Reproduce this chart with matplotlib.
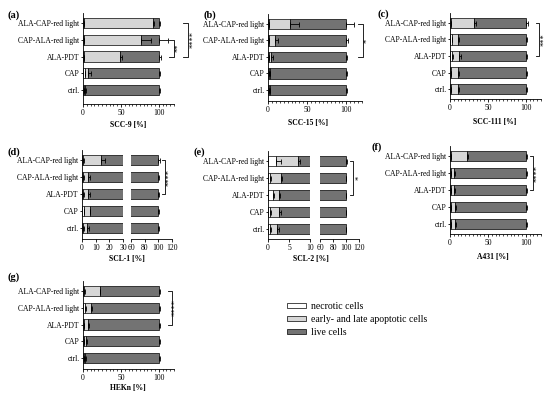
import matplotlib
matplotlib.use('Agg')
import matplotlib.pyplot as plt
from matplotlib.patches import Patch
from matplotlib.ticker import MultipleLocator

plt.rcParams['font.family'] = ['Liberation Serif', 'DejaVu Serif']

# categories, bottom (ctrl.) to top
categories = ["ctrl.", "CAP", "ALA-PDT", "CAP-ALA-red light", "ALA-CAP-red light"]

# SCC-9
a_nec = [1, 2, 1, 1, 1]
a_apo = [2, 5, 48, 76, 91]
a_nec_err = [0.5, 0.5, 0.5, 0.5, 0.5]
a_apo_err = [1, 3, 3, 13, 2]
a_live_err = [1, 2, 3, 12, 2]

# SCC-15
b_nec = [1, 1, 1, 1, 1]
b_apo = [1.5, 1.5, 3, 8, 27]
b_nec_err = [0.5, 0.5, 0.5, 0.5, 0.5]
b_apo_err = [0.5, 0.5, 2, 4, 12]
b_live_err = [1, 1, 1, 2, 10]

# SCC-111
c_nec = [1, 1, 3, 2, 1]
c_apo = [10, 10, 9, 8, 30]
c_nec_err = [0.5, 0.5, 0.5, 0.5, 0.5]
c_apo_err = [1, 1, 2, 2, 3]
c_live_err = [1, 1, 2, 2, 3]

# SCL-1
d_nec = [1, 1.5, 1, 1, 1]
d_apo = [3, 4, 3.5, 3.5, 13]
d_nec_err = [0.3, 0.3, 0.3, 0.3, 0.3]
d_apo_err = [1, 0.5, 1, 1, 3]
d_live_err = [1, 1, 1, 1, 3]

# SCL-2
e_nec = [0.5, 0.4, 1.3, 0.5, 2]
e_apo = [1.7, 2.1, 1.2, 2.5, 5.2]
e_nec_err = [0.3, 0.2, 0.1, 0.3, 1]
e_apo_err = [0.3, 0.5, 0.3, 0.3, 0.4]
e_live_err = [0.5, 0.5, 0.5, 0.5, 1]

# A431
f_nec = [1, 1, 1, 1, 1]
f_apo = [6, 6, 4, 4, 21]
f_nec_err = [0.5, 0.5, 0.5, 0.5, 0.5]
f_apo_err = [1, 1, 2, 2, 2]
f_live_err = [1, 1, 1, 1, 1]

# HEKn
g_nec = [1, 1, 1, 3, 1]
g_apo = [2, 3, 6, 8, 21]
g_nec_err = [0.5, 0.5, 0.5, 1, 1]
g_apo_err = [1, 1, 1, 1, 1]
g_live_err = [1, 1, 1, 1, 1]

legend_labels = ["necrotic cells", "early- and late apoptotic cells", "live cells"]

C_NEC = "white"
C_APO = "#d6d6d6"
C_LIVE = "#737373"
FS = 5.5

W, H = 550, 396
fig = plt.figure(figsize=(5.5, 3.96), dpi=100)


def make_ax(x0, x1, ytop, yctrl, yaxis, xlim):
    sp = (yctrl - ytop) / 4
    y_hi = ytop - 0.6 * sp
    ax = fig.add_axes([x0 / W, 1 - yaxis / H, (x1 - x0) / W, (yaxis - y_hi) / H])
    ax.set_ylim(-(yaxis - yctrl) / sp, 4.6)
    ax.set_xlim(*xlim)
    for s in ['top', 'right']:
        ax.spines[s].set_visible(False)
    for s in ['left', 'bottom']:
        ax.spines[s].set_linewidth(0.6)
    ax.tick_params(labelsize=FS, width=0.6, length=2, pad=1.5)
    ax.tick_params(axis='y', length=1.5, pad=1)
    ax.tick_params(which='minor', width=0.5, length=1.2)
    return ax


def draw_bars(ax, nec, apo, nec_err, apo_err, live_err):
    y = range(len(categories))
    live = [100 - n - a for n, a in zip(nec, apo)]
    left_apo = list(nec)
    left_live = [n + a for n, a in zip(nec, apo)]
    kw = dict(height=0.62, edgecolor='black', linewidth=0.5)
    ax.barh(y, nec, color=C_NEC, **kw)
    ax.barh(y, apo, left=left_apo, color=C_APO, **kw)
    ax.barh(y, live, left=left_live, color=C_LIVE, **kw)
    ekw = dict(fmt='none', ecolor='black', elinewidth=0.6, capsize=1.8, capthick=0.6)
    for ends, err in [(nec, nec_err), (left_live, apo_err), ([100] * 5, live_err)]:
        ax.errorbar(ends, y, xerr=[[0] * 5, err], **ekw)


def bracket(ax, x0, x1, r0, r1, stars, xs):
    ax.plot([x0, x1, x1, x0], [r0, r0, r1, r1], color='black', lw=0.6, clip_on=False)
    ax.text(xs, (r0 + r1) / 2, stars, rotation=90, ha='center', va='center',
            fontsize=6, clip_on=False)


def panel_label(x, y, s):
    fig.text(x / W, 1 - y / H, s, fontsize=7.5, fontweight='bold', ha='left', va='center')


def xlabel(x, y, s):
    fig.text(x / W, 1 - y / H, s, fontsize=FS, fontweight='bold', ha='center', va='center')


def full_panel(geom, data, name, lab, lab_xy, name_xy, brackets):
    ax = make_ax(*geom, (0, 120))
    draw_bars(ax, *data)
    ax.set_yticks(range(5))
    ax.set_yticklabels(categories)
    ax.set_xticks([0, 50, 100])
    ax.xaxis.set_minor_locator(MultipleLocator(5))
    for b in brackets:
        bracket(ax, *b)
    panel_label(*lab_xy, lab)
    xlabel(*name_xy, name)
    return ax


def broken_panel(geom_l, geom_r, xl, xr, ticks_l, data, name, lab, lab_xy, name_xy, brackets):
    axl = make_ax(*geom_l, xl)
    axr = make_ax(*geom_r, xr)
    for ax in (axl, axr):
        draw_bars(ax, *data)
    axl.set_yticks(range(5))
    axl.set_yticklabels(categories)
    axl.set_xticks(ticks_l)
    axr.set_xticks([60, 80, 100, 120])
    axr.spines['left'].set_visible(False)
    axr.set_yticks([])
    for b in brackets:
        bracket(axr, *b)
    panel_label(*lab_xy, lab)
    xlabel(*name_xy, name)


full_panel((83, 174, 23, 90, 104), (a_nec, a_apo, a_nec_err, a_apo_err, a_live_err),
           "SCC-9 [%]", "(a)", (7, 15), (128, 125),
           [(113, 120, 3, 2, "**", 126), (132, 138, 4, 2, "****", 146)])
full_panel((268, 362, 24, 90, 101), (b_nec, b_apo, b_nec_err, b_apo_err, b_live_err),
           "SCC-15 [%]", "(b)", (203, 15), (308, 123),
           [(115, 121, 4, 2, "*", 127)])
full_panel((450, 541, 23, 89, 99), (c_nec, c_apo, c_nec_err, c_apo_err, c_live_err),
           "SCC-111 [%]", "(c)", (377, 14), (495, 122),
           [(114, 118, 4, 2, "***", 124)])
broken_panel((82, 123, 160, 228, 239), (131, 172, 160, 228, 239), (0, 30), (60, 120),
             [0, 10, 20, 30], (d_nec, d_apo, d_nec_err, d_apo_err, d_live_err),
             "SCL-1 [%]", "(d)", (7, 152), (127, 259),
             [(106, 110, 4, 2, "****", 117)])
broken_panel((268, 310, 161, 229, 239), (320, 359, 161, 229, 239), (0, 10), (60, 120),
             [0, 5, 10], (e_nec, e_apo, e_nec_err, e_apo_err, e_live_err),
             "SCL-2 [%]", "(e)", (194, 152), (311, 259),
             [(106, 111, 4, 2, "*", 120)])
full_panel((450, 541, 156, 224, 234), (f_nec, f_apo, f_nec_err, f_apo_err, f_live_err),
           "A431 [%]", "(f)", (372, 147), (493, 257),
           [(105, 109, 4, 2, "****", 115)])
full_panel((83, 174, 291, 358, 369), (g_nec, g_apo, g_nec_err, g_apo_err, g_live_err),
           "HEKn [%]", "(g)", (7, 277), (128, 388),
           [(112, 117, 4, 2, "****", 122)])

handles = [Patch(facecolor=c, edgecolor='black', linewidth=0.5) for c in (C_NEC, C_APO, C_LIVE)]
fig.legend(handles, legend_labels, loc='upper left', bbox_to_anchor=(287 / W, 1 - 302 / H),
           frameon=False, fontsize=7, handlelength=2.0, handleheight=0.5,
           handletextpad=0.45, labelspacing=0.4, borderpad=0, borderaxespad=0)

fig.savefig("out.png", dpi=100)
